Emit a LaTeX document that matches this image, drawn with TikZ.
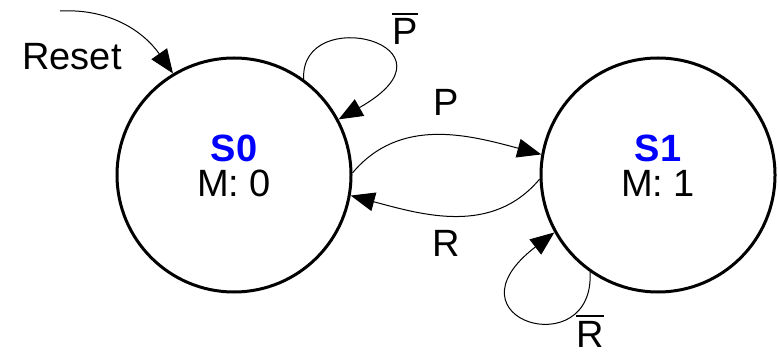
\documentclass[tikz,border=0pt]{standalone}
\usepackage{fontspec}
\setmainfont{Liberation Sans}
\usetikzlibrary{arrows.meta}
\newcommand\barred[1]{\vbox{\hrule height 1.5pt\kern 4pt\hbox{#1}}}
\begin{document}
\begin{tikzpicture}[x=1pt,y=-1pt,
  state/.style={circle,draw,line width=3pt,minimum size=234pt,inner sep=0pt},
  lbl/.style={font=\fontsize{38}{40}\selectfont,anchor=base,inner sep=0pt,text height=27pt,text depth=0pt},
  blbl/.style={lbl,text height=33pt},
  sname/.style={lbl,text=blue,font=\fontsize{38}{40}\selectfont\bfseries},
  edge/.style={line width=1pt,-{Triangle[length=24pt,width=19pt]}}]
\useasboundingbox (0,0) rectangle (778,355);
\node[state] (s0) at (234,175) {};
\node[state] (s1) at (658,175) {};
\node[sname] (s0n) at (234,162) {S0};
\node[lbl] (s0m) at (234,197) {M: 0};
\node[sname] (s1n) at (658,162) {S1};
\node[lbl] (s1m) at (658,197) {M: 1};
\node[lbl] (reset) at (72,70) {Reset};
\node[lbl] (lp) at (446,116) {P};
\node[lbl] (lr) at (446,256) {R};
\node[blbl] (lpb) at (405,45) {\barred{P}};
\node[blbl] (lrb) at (590,347) {\barred{R}};
\coordinate (rs) at (60,11);
\draw[edge] (rs) to[out=3,in=125] (s0.121);
\draw[edge] (s0.54) .. controls (300,2) and (470,45) .. (s0.28);
\draw[edge] (s0.1) to[out=50,in=165] (s1.170);
\draw[edge] (s1.182) to[out=-130,in=-15] (s0.-10);
\draw[edge] (s1.235) .. controls (595,365) and (440,320) .. (s1.209);
\end{tikzpicture}
\end{document}
